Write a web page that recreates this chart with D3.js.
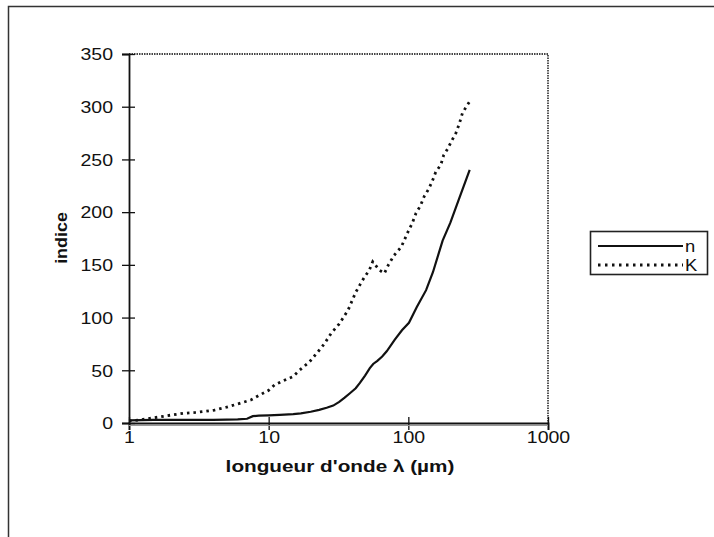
<!DOCTYPE html>
<html><head><meta charset="utf-8">
<script src="https://cdn.jsdelivr.net/npm/d3@7"></script>
<style>body{margin:0;background:#fff}svg{display:block}text{font-family:"Liberation Sans",Arial,sans-serif;fill:#111}</style>
</head><body>
<svg id="c" width="714" height="537"></svg>
<script>
const nX = [1, 1.5, 2, 3, 4, 5, 6, 7, 7.7, 8.5, 10, 12, 15, 17, 20, 23, 26, 29, 32, 35, 38, 42, 45, 49, 53, 56, 60, 65, 70, 80, 90, 101, 115, 134, 150, 176, 200, 230, 275];
const nY = [2.5, 3, 3, 3, 3, 3.2, 3.5, 4, 6.5, 7, 7.3, 7.8, 8.5, 9.2, 10.7, 12.5, 14.5, 16.5, 20, 24, 28, 33, 38, 45, 52, 56, 59, 63, 68, 79, 88, 95, 110, 126, 143, 173, 190, 212, 240];
const kX = [1, 1.2, 1.41, 1.7, 2, 2.44, 3, 3.5, 4.1, 5, 6.2, 7.5, 8.6, 10, 11, 12.7, 14.9, 16.6, 19.6, 23, 25, 28, 32, 37, 42, 45, 48.3, 52.6, 55.6, 62, 67.4, 72, 79, 89, 100, 107, 113.5, 122, 130, 140, 149, 157, 171, 179, 191, 205, 219, 232, 244, 260, 275];
const kY = [2, 3, 4.4, 6, 7.5, 9.2, 10, 11, 12.3, 15, 18.6, 22, 26.5, 31, 36, 40, 44, 50, 58, 69, 75, 85, 94, 107, 124, 131, 138, 145, 153, 145, 142, 150, 159, 167, 182, 190, 199, 206, 215, 222, 230, 238, 245, 254, 260, 268, 275, 284, 294, 300, 305];
const xTicks = [1, 10, 100, 1000];
const yTicks = [0, 50, 100, 150, 200, 250, 300, 350];
const seriesNames = ["n", "K"];

const svg = d3.select("#c");
const L = 129, R = 548, T = 54, B = 423;
const SX = 1.22;
const x = d3.scaleLog().domain([1, 1000]).range([L, R]);
const y = d3.scaleLinear().domain([0, 350]).range([B, T]);

svg.append("path").attr("d", "M8.5,537 V6.5 H714").attr("fill", "none").attr("stroke", "#333").attr("stroke-width", 1.5);

svg.append("path").attr("d", `M${L},${T} H${R} V${B}`).attr("fill", "none")
  .attr("stroke", "#444").attr("stroke-width", 1.8).attr("stroke-dasharray", "1.5,1");

// y axis
const ya = svg.append("g").attr("transform", `translate(${L},0)`)
  .call(d3.axisLeft(y).tickValues(yTicks).tickSize(7).tickPadding(8).tickFormat(d3.format("d")));
ya.select(".domain").attr("stroke", "#111").attr("stroke-width", 1.8);
ya.selectAll(".tick line").attr("stroke", "#111").attr("stroke-width", 1.3).attr("x2", -7).attr("x1", 6);
ya.selectAll(".tick text").attr("font-size", 16).attr("fill", "#111")
  .style("font-family", "Liberation Sans, Arial, sans-serif")
  .attr("x", 0).attr("dy", "0.36em").attr("transform", `translate(-16,0) scale(${SX},1)`);

// x axis
const xa = svg.append("g").attr("transform", `translate(0,${B})`)
  .call(d3.axisBottom(x).tickValues(xTicks).tickSize(7).tickPadding(3).tickFormat(d3.format("d")));
xa.select(".domain").attr("stroke", "#111").attr("stroke-width", 1.8);
xa.selectAll(".tick line").attr("stroke", "#111").attr("stroke-width", 1.3).attr("y1", -6).attr("y2", 7);
xa.selectAll(".tick text").attr("font-size", 16).attr("fill", "#111")
  .style("font-family", "Liberation Sans, Arial, sans-serif")
  .attr("y", 0).attr("dy", 0).attr("transform", `translate(0,20) scale(${SX},1)`);
svg.append("line").attr("x1", L).attr("x2", R).attr("y1", B + 2.5).attr("y2", B + 2.5).attr("stroke", "#999").attr("stroke-width", 1);

const line = d3.line().x(d => x(d[0])).y(d => y(d[1]));
svg.append("path").datum(nX.map((v, i) => [v, nY[i]])).attr("d", line)
  .attr("fill", "none").attr("stroke", "#111").attr("stroke-width", 2.2);
svg.append("path").datum(kX.map((v, i) => [v, kY[i]])).attr("d", line)
  .attr("fill", "none").attr("stroke", "#111").attr("stroke-width", 2.8).attr("stroke-dasharray", "2.5,4");

// titles
svg.append("text").attr("transform", `translate(340,472) scale(1.22,1)`).attr("text-anchor", "middle")
  .attr("font-size", 17).attr("font-weight", "bold").text("longueur d'onde λ (µm)");
svg.append("text").attr("transform", "translate(67,238) rotate(-90) scale(1.12,1)").attr("text-anchor", "middle")
  .attr("font-size", 16).attr("font-weight", "bold").text("indice");

// legend
const lg = svg.append("g");
lg.append("rect").attr("x", 590.5).attr("y", 231.5).attr("width", 117).attr("height", 43)
  .attr("fill", "#fff").attr("stroke", "#222").attr("stroke-width", 1.6);
const ly = [246, 265];
seriesNames.forEach((s, i) => {
  lg.append("line").attr("x1", 598).attr("x2", 683).attr("y1", ly[i]).attr("y2", ly[i])
    .attr("stroke", "#111").attr("stroke-width", i ? 2.8 : 2.2).attr("stroke-dasharray", i ? "2.5,4.5" : null);
  lg.append("text").attr("transform", `translate(685,${ly[i] + 6}) scale(1.15,1)`).attr("font-size", 16).text(s);
});
</script>
</body></html>
